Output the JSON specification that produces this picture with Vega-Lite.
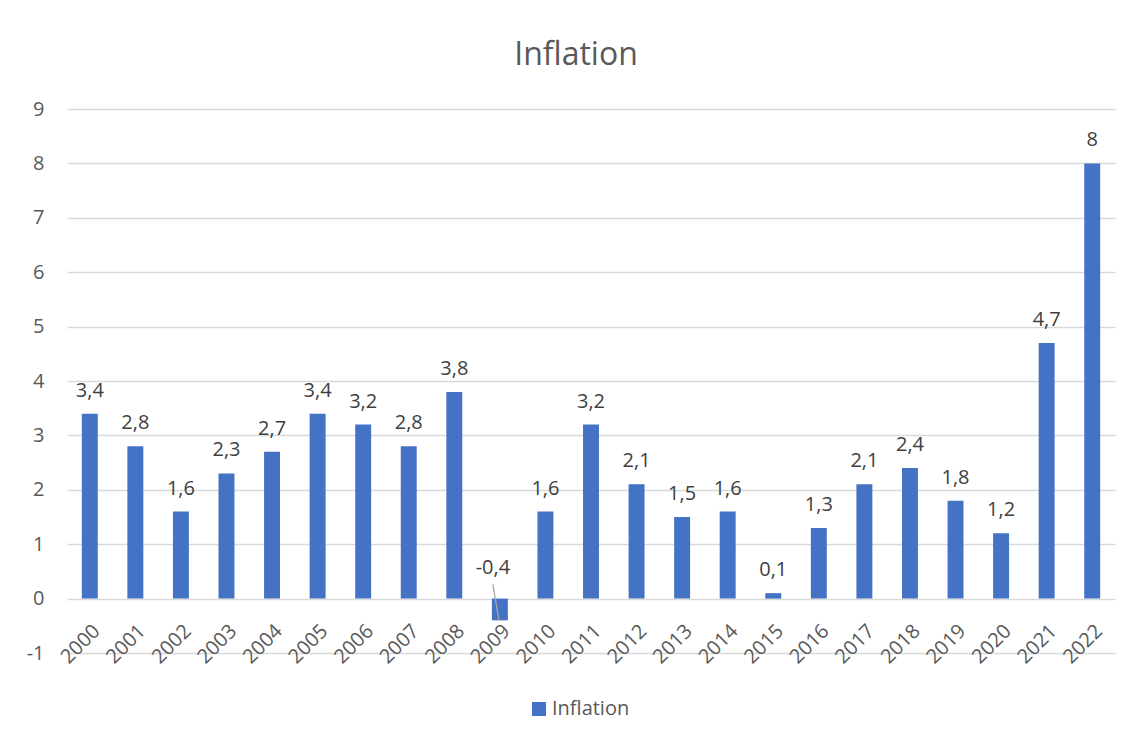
{
  "$schema": "https://vega.github.io/schema/vega-lite/v6.json",
  "autosize": "none",
  "width": 1048,
  "height": 544,
  "padding": {"left": 67, "top": 109, "right": 18, "bottom": 85},
  "background": "white",
  "title": {
    "text": "Inflation",
    "font": "Open Sans",
    "fontSize": 32,
    "fontWeight": "normal",
    "color": "#595959",
    "anchor": "middle",
    "baseline": "alphabetic",
    "offset": 2,
    "dx": -15
  },
  "config": {
    "locale": {
      "number": {"decimal": ",", "thousands": ".", "grouping": [3], "currency": ["", " €"], "minus": "-"}
    },
    "view": {"stroke": null},
    "font": "Open Sans"
  },
  "data": {
    "values": [
      {"year": "2000", "inflation": 3.4, "series": "Inflation"},
      {"year": "2001", "inflation": 2.8, "series": "Inflation"},
      {"year": "2002", "inflation": 1.6, "series": "Inflation"},
      {"year": "2003", "inflation": 2.3, "series": "Inflation"},
      {"year": "2004", "inflation": 2.7, "series": "Inflation"},
      {"year": "2005", "inflation": 3.4, "series": "Inflation"},
      {"year": "2006", "inflation": 3.2, "series": "Inflation"},
      {"year": "2007", "inflation": 2.8, "series": "Inflation"},
      {"year": "2008", "inflation": 3.8, "series": "Inflation"},
      {"year": "2009", "inflation": -0.4, "series": "Inflation"},
      {"year": "2010", "inflation": 1.6, "series": "Inflation"},
      {"year": "2011", "inflation": 3.2, "series": "Inflation"},
      {"year": "2012", "inflation": 2.1, "series": "Inflation"},
      {"year": "2013", "inflation": 1.5, "series": "Inflation"},
      {"year": "2014", "inflation": 1.6, "series": "Inflation"},
      {"year": "2015", "inflation": 0.1, "series": "Inflation"},
      {"year": "2016", "inflation": 1.3, "series": "Inflation"},
      {"year": "2017", "inflation": 2.1, "series": "Inflation"},
      {"year": "2018", "inflation": 2.4, "series": "Inflation"},
      {"year": "2019", "inflation": 1.8, "series": "Inflation"},
      {"year": "2020", "inflation": 1.2, "series": "Inflation"},
      {"year": "2021", "inflation": 4.7, "series": "Inflation"},
      {"year": "2022", "inflation": 8, "series": "Inflation"}
    ]
  },
  "encoding": {
    "x": {
      "field": "year",
      "type": "ordinal",
      "scale": {"paddingInner": 0.65, "paddingOuter": 0.325},
      "axis": {
        "title": null,
        "labelAngle": -45,
        "labelAlign": "right",
        "labelBaseline": "top",
        "labelFont": "Open Sans",
        "labelFontSize": 20,
        "labelColor": "#595959",
        "labelPadding": 22,
        "labelDx": -14,
        "labelBound": false,
        "labelOverlap": false,
        "domain": false,
        "ticks": false,
        "offset": -54.4,
        "zindex": 0
      }
    }
  },
  "layer": [
    {
      "mark": {"type": "bar"},
      "encoding": {
        "y": {
          "field": "inflation",
          "type": "quantitative",
          "scale": {"domain": [-1, 9], "nice": false, "zero": false},
          "axis": {
            "title": null,
            "values": [-1, 0, 1, 2, 3, 4, 5, 6, 7, 8, 9],
            "format": "d",
            "domain": false,
            "ticks": false,
            "labelFont": "Open Sans",
            "labelFontSize": 20,
            "labelColor": "#595959",
            "labelPadding": 23,
            "gridColor": "#d9d9d9",
            "gridWidth": 1.3,
            "zindex": 0
          }
        },
        "y2": {"datum": 0},
        "color": {
          "field": "series",
          "type": "nominal",
          "scale": {"range": ["#4472C4"]},
          "legend": {
            "title": null,
            "orient": "none",
            "legendX": 462,
            "legendY": 590,
            "direction": "horizontal",
            "symbolType": "square",
            "symbolSize": 196,
            "symbolStrokeWidth": 0,
            "labelFont": "Open Sans",
            "labelFontSize": 20,
            "labelColor": "#595959",
            "labelOffset": 3,
            "padding": 0
          }
        }
      }
    },
    {
      "transform": [{"filter": "datum.inflation >= 0"}],
      "mark": {"type": "text", "baseline": "alphabetic", "dy": -17, "fontSize": 20, "color": "#404040", "font": "Open Sans"},
      "encoding": {
        "y": {"field": "inflation", "type": "quantitative"},
        "text": {"field": "inflation", "type": "quantitative", "format": ".1~f"}
      }
    },
    {
      "transform": [{"filter": "datum.inflation < 0"}],
      "mark": {"type": "text", "baseline": "alphabetic", "dy": -25, "dx": -7, "fontSize": 20, "color": "#404040", "font": "Open Sans"},
      "encoding": {
        "y": {"datum": 0},
        "text": {"field": "inflation", "type": "quantitative", "format": ".1~f"}
      }
    },
    {
      "transform": [{"filter": "datum.inflation < 0"}],
      "mark": {"type": "rule", "color": "#a6a6a6", "strokeWidth": 1.3, "xOffset": -7, "x2Offset": -1},
      "encoding": {
        "x2": {"field": "year"},
        "y": {"datum": 0.26},
        "y2": {"datum": -0.39}
      }
    }
  ]
}
